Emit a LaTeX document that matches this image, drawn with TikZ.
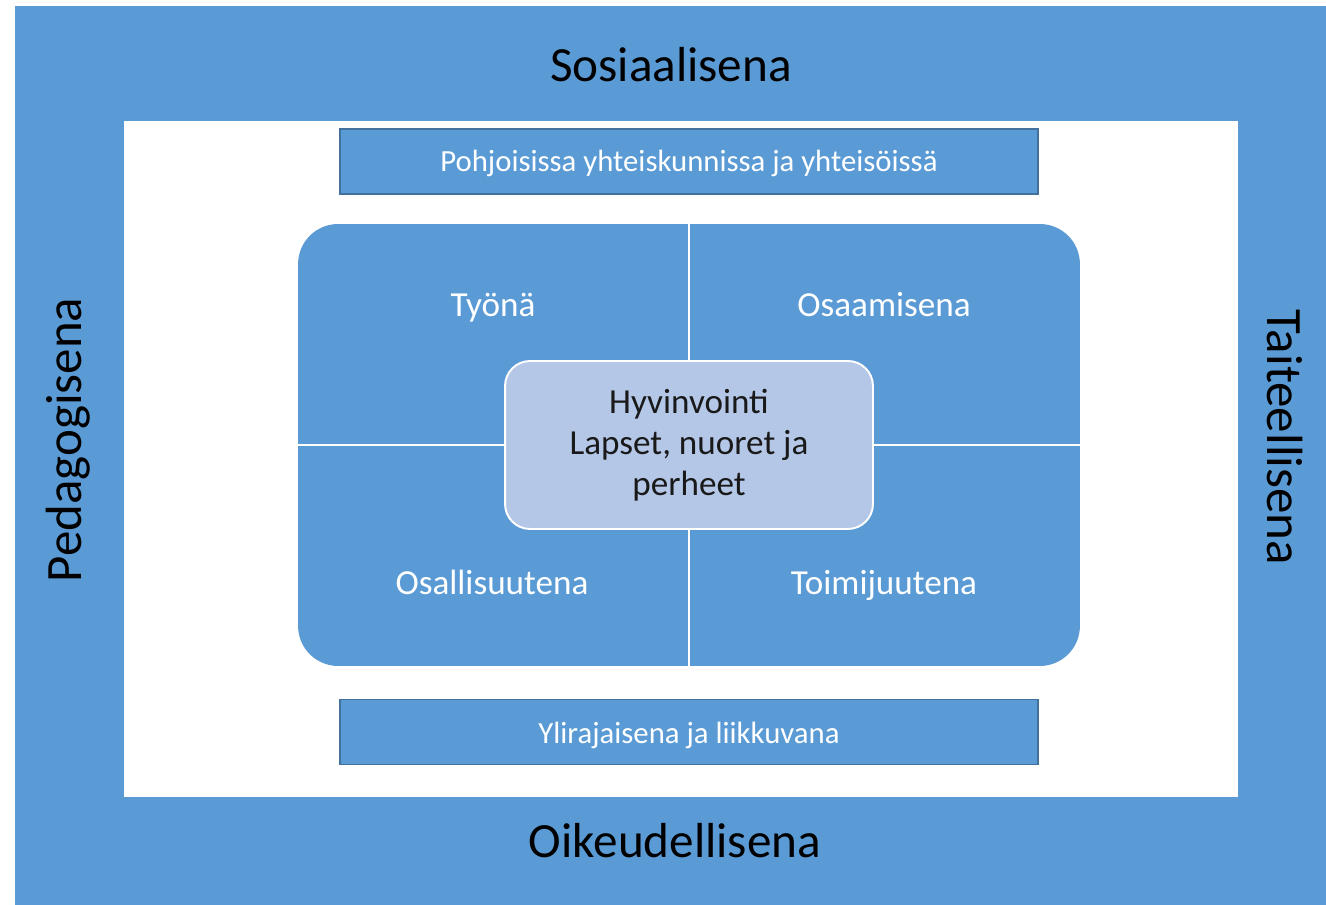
\documentclass[tikz,border=0pt]{standalone}
\usepackage{fontspec}
\setmainfont{Carlito}
\definecolor{panelblue}{HTML}{5B9BD5}
\definecolor{coreblue}{HTML}{B4C7E7}
\definecolor{barline}{HTML}{41719C}
\tikzset{
  area/.style={inner sep=0pt, outer sep=0pt},
  outerlabel/.style={font=\fontsize{28}{34}\selectfont, text=black},
  bar/.style={draw=barline, line width=0.9pt, fill=panelblue,
    minimum width=13.96cm, minimum height=1.3cm, inner sep=0pt},
  bartext/.style={anchor=base, text=white, font=\fontsize{17.5}{21}\selectfont},
  quadlabel/.style={anchor=base, text=white, font=\fontsize{20}{24}\selectfont},
  divider/.style={draw=white, line width=1.3pt}
}

\begin{document}
\begin{tikzpicture}[x=0.02cm,y=-0.02cm]

\useasboundingbox (0,0) rectangle (1326,905);

\node[area, fill=panelblue, minimum width=26.22cm, minimum height=17.98cm] (frame) at (670.5,455.5) {};
\node[area, fill=white, minimum width=22.28cm, minimum height=13.52cm] (field) at (681,459) {};

\node[outerlabel, anchor=base] (sosiaalinen) at (671,82) {Sosiaalisena};
\node[outerlabel, anchor=base] (oikeudellinen) at (675,857) {Oikeudellisena};
\node[outerlabel, rotate=90, font=\fontsize{29}{34}\selectfont] (pedagoginen) at (68,440) {Pedagogisena};
\node[outerlabel, rotate=-90, font=\fontsize{29}{34}\selectfont] (taiteellinen) at (1285,437) {Taiteellisena};

\node[bar] (pohjoinen) at (689,161.5) {};
\node[bartext] (pohjoinen-t) at (689,172) {Pohjoisissa yhteiskunnissa ja yhteisöissä};
\node[bar] (ylirajainen) at (689,732) {};
\node[bartext] (ylirajainen-t) at (689,743) {Ylirajaisena ja liikkuvana};

\node[area, fill=panelblue, rounded corners=0.8cm, minimum width=15.64cm, minimum height=8.84cm] (block) at (689,445) {};
\draw[divider] (block.north) -- (block.south);
\draw[divider] (block.west) -- (block.east);

\node[quadlabel] (tyona) at (493,317) {Työnä};
\node[quadlabel] (osaaminen) at (884,317) {Osaamisena};
\node[quadlabel] (osallisuus) at (492,594) {Osallisuutena};
\node[quadlabel] (toimijuus) at (884,594) {Toimijuutena};

\node[draw=white, line width=1.1pt, fill=coreblue, rounded corners=0.5cm,
  minimum width=7.36cm, minimum height=3.36cm, align=center, text=black!90,
  font=\fontsize{20}{23.5}\selectfont] (hyvinvointi) at (689,445)
  {Hyvinvointi\\Lapset, nuoret ja\\perheet};

\end{tikzpicture}
\end{document}
